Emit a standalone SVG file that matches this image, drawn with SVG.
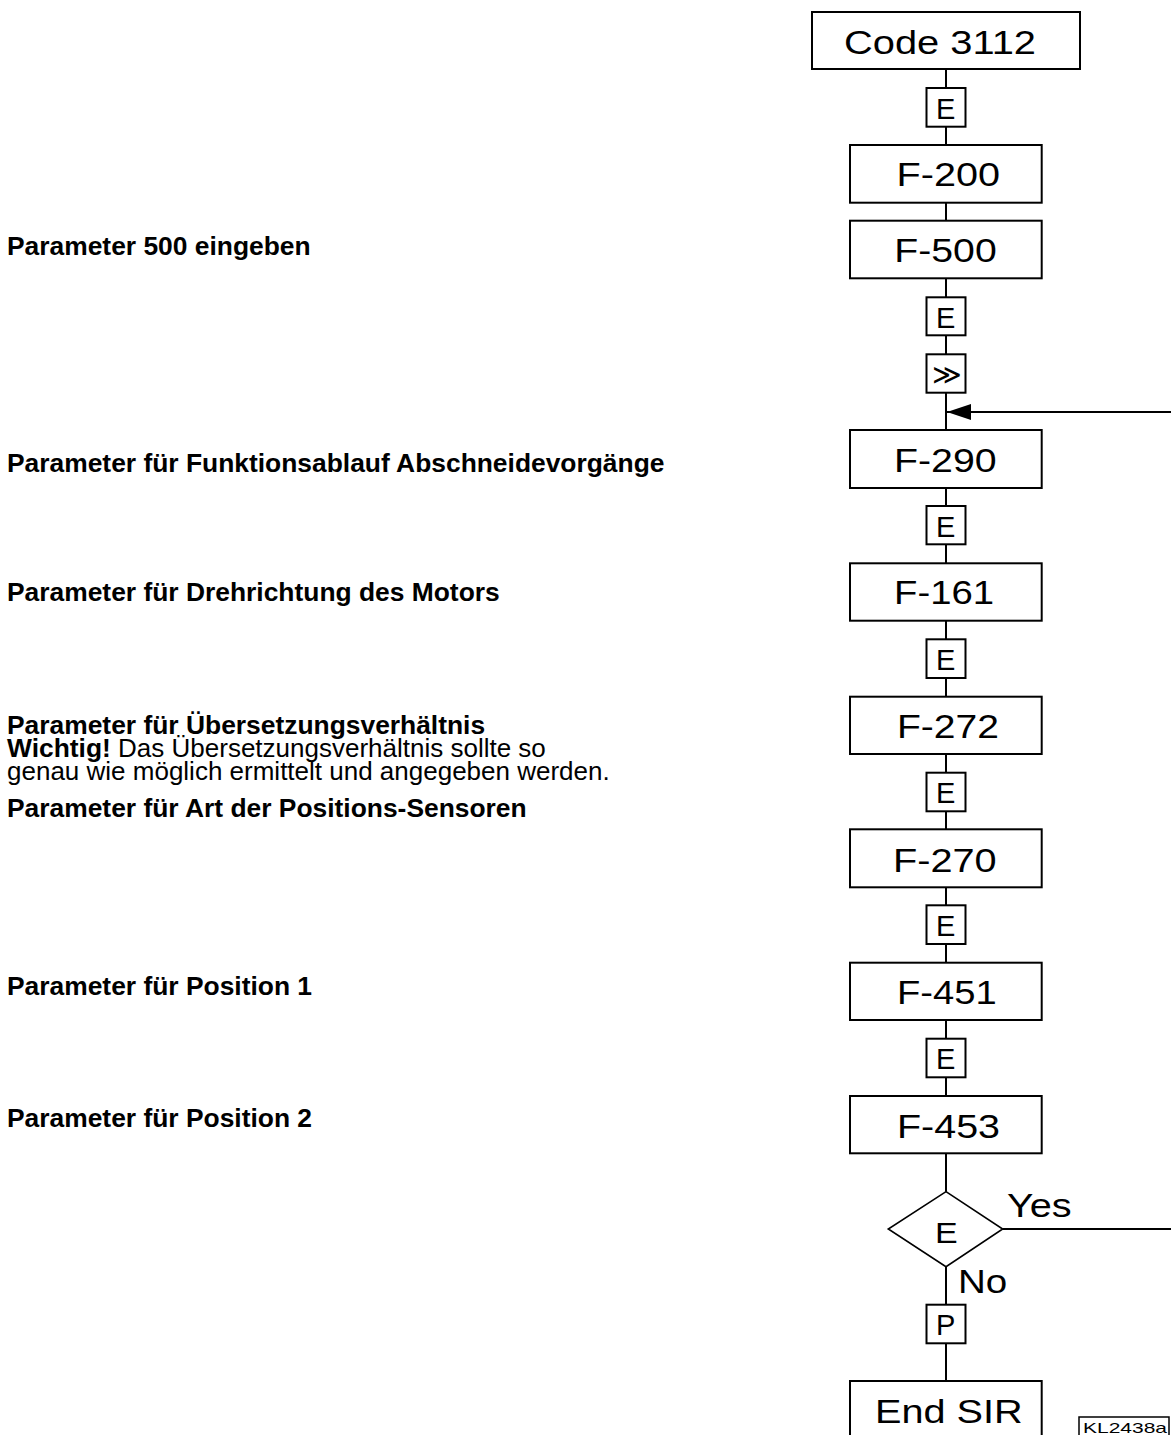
<svg xmlns="http://www.w3.org/2000/svg" width="1171" height="1435" viewBox="0 0 1171 1435">
<style>
.box{fill:#fff;stroke:#000;stroke-width:2}
.lbl{font-family:"Liberation Sans",Arial,sans-serif;font-size:33px;fill:#000}
.key{font-family:"Liberation Sans",Arial,sans-serif;font-size:29px;fill:#000}
.side{font-family:"Liberation Sans",Arial,sans-serif;font-size:26px;fill:#000}
.b{font-weight:bold;font-size:26.4px}
.conn{stroke:#000;stroke-width:2;fill:none}
</style>
<defs>
<marker id="arr" markerUnits="userSpaceOnUse" markerWidth="24" markerHeight="16" refX="24" refY="8" orient="auto" viewBox="0 0 24 16">
<path d="M0,0 L24,8 L0,16 z" fill="#000"/>
</marker>
</defs>
<rect width="1171" height="1435" fill="#fff"/>

<g id="side-texts">
<text class="side b" x="7" y="255">Parameter 500 eingeben</text>
<text class="side b" x="7" y="472">Parameter für Funktionsablauf Abschneidevorgänge</text>
<text class="side b" x="7" y="600.5">Parameter für Drehrichtung des Motors</text>
<text class="side b" x="7" y="733.7">Parameter für Übersetzungsverhältnis</text>
<text class="side" x="7" y="757"><tspan class="b">Wichtig!</tspan> Das Übersetzungsverhältnis sollte so</text>
<text class="side" x="7" y="780">genau wie möglich ermittelt und angegeben werden.</text>
<text class="side b" x="7" y="816.7">Parameter für Art der Positions-Sensoren</text>
<text class="side b" x="7" y="995">Parameter für Position 1</text>
<text class="side b" x="7" y="1127">Parameter für Position 2</text>
</g>

<g id="connectors">
<path class="conn" d="M946,69 V88 M946,126.7 V145 M946,202.7 V220.7 M946,278.3 V297.3 M946,335.3 V354.3 M946,392.7 V430 M946,488 V506 M946,544.3 V563.3 M946,620.7 V639.3 M946,678 V696.7 M946,754 V772.7 M946,811.3 V829.3 M946,887.3 V905.3 M946,944 V962.7 M946,1020 V1038.7 M946,1077.3 V1096 M946,1153.3 V1191.7 M946,1266.7 V1304.7 M946,1343.3 V1381"/>
<path class="conn" d="M1002.7,1229 H1180 V412 H947" marker-end="url(#arr)"/>
</g>

<g id="code3112"><rect class="box" x="812" y="12" width="268" height="57"/><text class="lbl" x="844" y="54" textLength="192" lengthAdjust="spacingAndGlyphs">Code 3112</text></g>
<g id="e1"><rect class="box" x="926.5" y="88" width="39" height="38.7"/><text class="key" x="936" y="119">E</text></g>
<g id="f200"><rect class="box" x="850" y="145" width="191.7" height="57.7"/><text class="lbl" x="896.5" y="185.7" textLength="103.5" lengthAdjust="spacingAndGlyphs">F-200</text></g>
<g id="f500"><rect class="box" x="850" y="220.7" width="191.7" height="57.6"/><text class="lbl" x="894.3" y="261.7" textLength="102.4" lengthAdjust="spacingAndGlyphs">F-500</text></g>
<g id="e2"><rect class="box" x="926.5" y="297.3" width="39" height="38"/><text class="key" x="936" y="327.5">E</text></g>
<g id="shift"><rect class="box" x="926.5" y="354.3" width="39" height="38.4"/><text x="932" y="384" style="font-family:'DejaVu Sans',sans-serif;font-size:28px" textLength="29.7" lengthAdjust="spacingAndGlyphs">≫</text></g>
<g id="f290"><rect class="box" x="850" y="430" width="191.7" height="58"/><text class="lbl" x="894" y="471.7" textLength="102.7" lengthAdjust="spacingAndGlyphs">F-290</text></g>
<g id="e3"><rect class="box" x="926.5" y="506" width="39" height="38.3"/><text class="key" x="936" y="536.5">E</text></g>
<g id="f161"><rect class="box" x="850" y="563.3" width="191.7" height="57.4"/><text class="lbl" x="894" y="604.3" textLength="100" lengthAdjust="spacingAndGlyphs">F-161</text></g>
<g id="e4"><rect class="box" x="926.5" y="639.3" width="39" height="38.7"/><text class="key" x="936" y="670">E</text></g>
<g id="f272"><rect class="box" x="850" y="696.7" width="191.7" height="57.3"/><text class="lbl" x="897" y="738.3" textLength="102" lengthAdjust="spacingAndGlyphs">F-272</text></g>
<g id="e5"><rect class="box" x="926.5" y="772.7" width="39" height="38.6"/><text class="key" x="936" y="803.3">E</text></g>
<g id="f270"><rect class="box" x="850" y="829.3" width="191.7" height="58"/><text class="lbl" x="893" y="871.7" textLength="103.7" lengthAdjust="spacingAndGlyphs">F-270</text></g>
<g id="e6"><rect class="box" x="926.5" y="905.3" width="39" height="38.7"/><text class="key" x="936" y="936">E</text></g>
<g id="f451"><rect class="box" x="850" y="962.7" width="191.7" height="57.3"/><text class="lbl" x="897" y="1004.3" textLength="99.7" lengthAdjust="spacingAndGlyphs">F-451</text></g>
<g id="e7"><rect class="box" x="926.5" y="1038.7" width="39" height="38.6"/><text class="key" x="936" y="1069.3">E</text></g>
<g id="f453"><rect class="box" x="850" y="1096" width="191.7" height="57.3"/><text class="lbl" x="897" y="1137.7" textLength="103" lengthAdjust="spacingAndGlyphs">F-453</text></g>
<g id="decision"><polygon class="box" points="946,1191.7 1002.7,1229 946,1266.7 888.3,1229" style="stroke-width:1.6"/><text class="key" x="935" y="1243.3" textLength="22.7" lengthAdjust="spacingAndGlyphs">E</text></g>
<g id="yes-label"><text class="lbl" x="1007" y="1217.3" textLength="64.7" lengthAdjust="spacingAndGlyphs">Yes</text></g>
<g id="no-label"><text class="lbl" x="958" y="1293" textLength="49.3" lengthAdjust="spacingAndGlyphs">No</text></g>
<g id="p"><rect class="box" x="926.5" y="1304.7" width="39" height="38.6"/><text class="key" x="936" y="1335">P</text></g>
<g id="endsir"><rect class="box" x="850" y="1381" width="191.7" height="58"/><text class="lbl" x="875" y="1423.3" textLength="147.7" lengthAdjust="spacingAndGlyphs">End SIR</text></g>
<g id="kl2438a"><rect x="1079" y="1417" width="90" height="24" fill="#fff" stroke="#000" stroke-width="1.5"/><text x="1083" y="1433" style="font-family:'Liberation Sans',Arial,sans-serif;font-size:15px" textLength="84" lengthAdjust="spacingAndGlyphs">KL2438a</text></g>
</svg>
